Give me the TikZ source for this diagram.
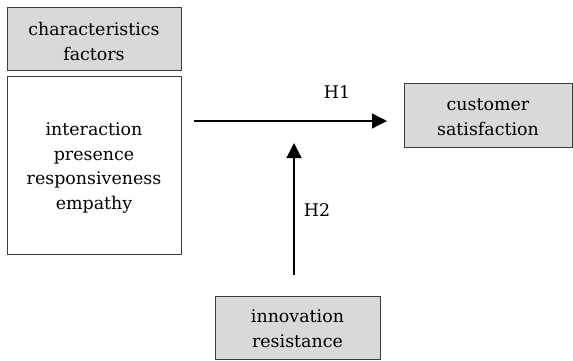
\documentclass[tikz,border=0pt]{standalone}
\usepackage{fontspec}
\setmainfont{DejaVu Serif}
\usetikzlibrary{arrows.meta}
\definecolor{boxgray}{RGB}{217,217,217}
\definecolor{edgegray}{RGB}{60,60,60}
\tikzset{
  box/.style={draw=edgegray, line width=1pt, inner sep=0pt},
  graybox/.style={box, fill=boxgray},
  txt/.style={align=center, inner sep=0pt, font=\fontsize{17.5}{25}\selectfont},
  conn/.style={line width=1.2pt, -{Triangle[length=15bp,width=15bp]}},
  lab/.style={font=\fontsize{17.5}{25}\selectfont, inner sep=0pt}
}
\begin{document}
\begin{tikzpicture}[x=1bp,y=-1bp]
\useasboundingbox (0,0) rectangle (573,360);
\node[graybox, minimum width=174bp, minimum height=63bp] (cf) at (94,38.5) {};
\node[box, minimum width=174bp, minimum height=178bp] (fac) at (94,165) {};
\node[graybox, minimum width=168bp, minimum height=64bp] (cs) at (488,115) {};
\node[graybox, minimum width=165bp, minimum height=63bp] (ir) at (297.5,327.5) {};
\node[txt] (cft) at ([yshift=-3bp]cf.center) {characteristics\\factors};
\node[txt] (fact) at ([yshift=-3bp]fac.center) {interaction\\presence\\responsiveness\\empathy};
\node[txt] (cst) at ([yshift=-2bp]cs.center) {customer\\satisfaction};
\node[txt] (irt) at ([yshift=-1bp]ir.center) {innovation\\resistance};
\coordinate (h1s) at (194,121);
\coordinate (h1e) at (387,121);
\coordinate (h2s) at (294,275);
\coordinate (h2e) at (294,143);
\draw[conn] (h1s) -- (h1e);
\draw[conn] (h2s) -- (h2e);
\node[lab] (h1) at (337,92) {H1};
\node[lab] (h2) at (317,210) {H2};
\end{tikzpicture}
\end{document}
